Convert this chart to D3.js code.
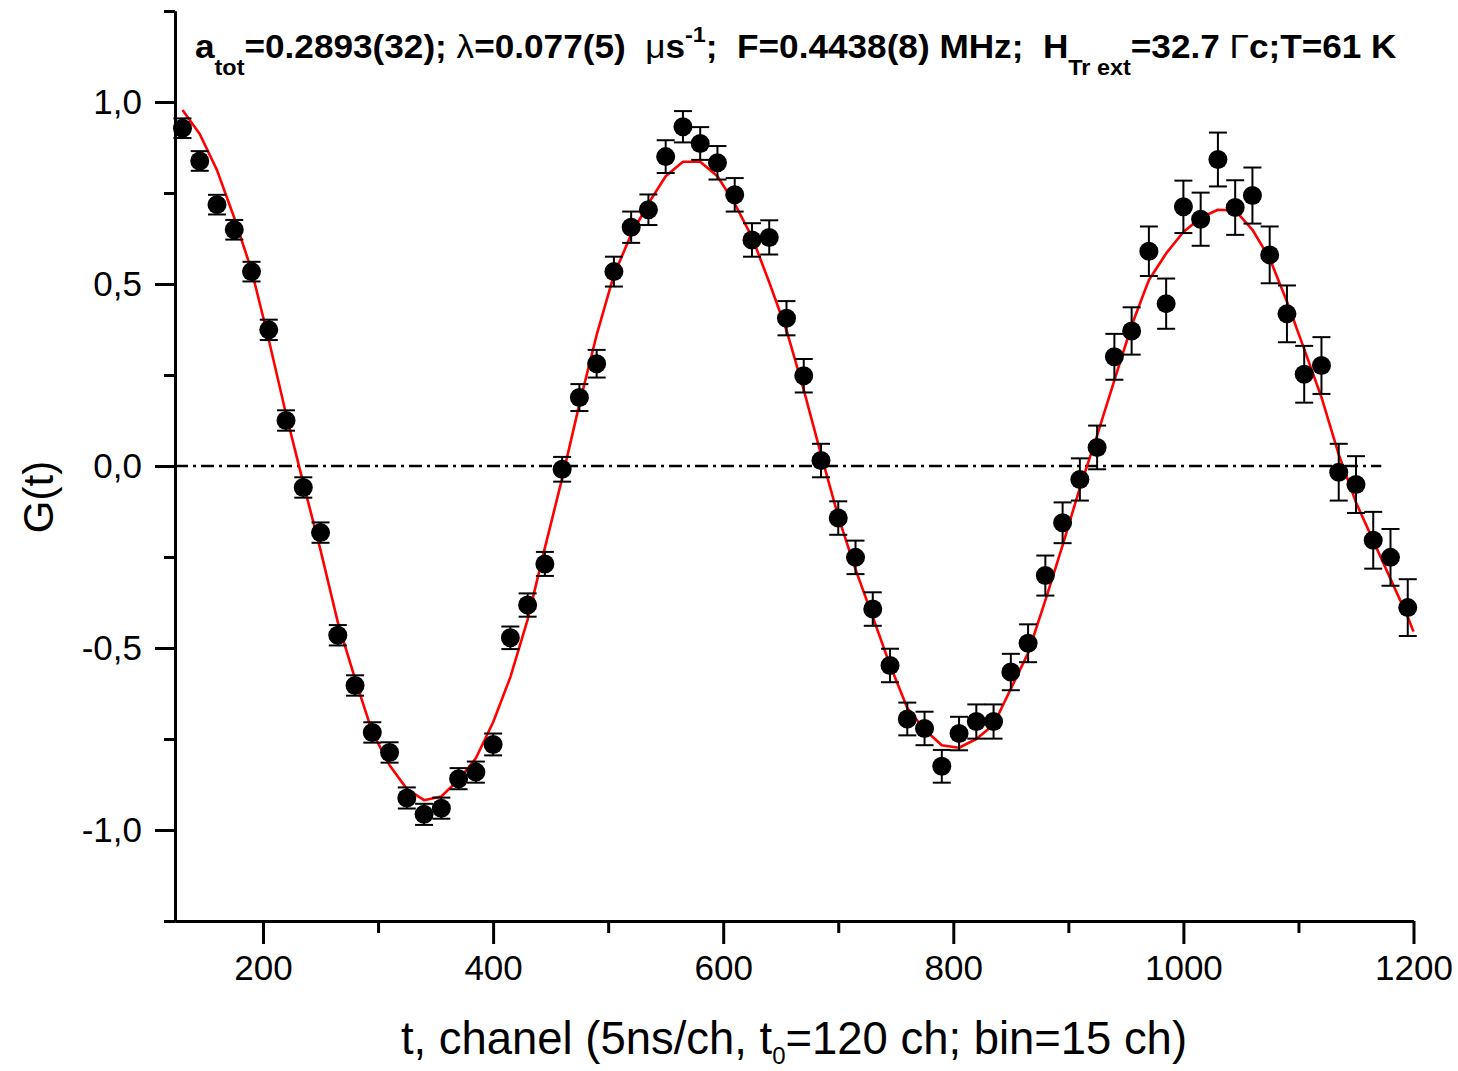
<!DOCTYPE html>
<html><head><meta charset="utf-8">
<script src="https://cdn.jsdelivr.net/npm/d3@7"></script>
<style>
html,body{margin:0;padding:0;background:#fff;}
text{font-family:"Liberation Sans",Arial,sans-serif;fill:#000;}
</style></head>
<body><svg id="chart" width="1458" height="1071"></svg>
<script>
// ---- data ----
const channels = [130,145,160,175,190,205,220,235,250,265,280,295,310,325,340,355,370,385,400,415,430,445,460,475,490,505,520,535,550,565,580,595,610,625,640,655,670,685,700,715,730,745,760,775,790,805,820,835,850,865,880,895,910,925,940,955,970,985,1000,1015,1030,1045,1060,1075,1090,1105,1120,1135,1150,1165,1180,1195];
const gValues = [0.928,0.838,0.718,0.649,0.534,0.374,0.125,-0.059,-0.183,-0.465,-0.603,-0.732,-0.787,-0.912,-0.957,-0.940,-0.859,-0.841,-0.765,-0.472,-0.382,-0.269,-0.009,0.188,0.281,0.534,0.656,0.704,0.850,0.932,0.886,0.833,0.745,0.621,0.628,0.406,0.248,0.015,-0.143,-0.251,-0.393,-0.548,-0.695,-0.721,-0.825,-0.735,-0.702,-0.702,-0.566,-0.487,-0.301,-0.156,-0.037,0.051,0.300,0.371,0.590,0.446,0.712,0.678,0.842,0.710,0.743,0.580,0.418,0.252,0.276,-0.017,-0.051,-0.204,-0.251,-0.389];
const gErrors = [0.027,0.027,0.027,0.027,0.027,0.028,0.028,0.028,0.028,0.028,0.028,0.028,0.028,0.029,0.029,0.029,0.029,0.029,0.030,0.031,0.032,0.033,0.034,0.037,0.038,0.041,0.043,0.042,0.045,0.043,0.045,0.046,0.046,0.046,0.047,0.047,0.046,0.046,0.046,0.046,0.046,0.046,0.045,0.046,0.045,0.046,0.047,0.047,0.050,0.052,0.055,0.056,0.058,0.060,0.063,0.065,0.068,0.069,0.072,0.073,0.074,0.075,0.077,0.078,0.078,0.078,0.078,0.078,0.078,0.078,0.078,0.078];
const fitChannels = channels.concat([1200]);
const fitValues = [0.978,0.912,0.813,0.682,0.538,0.347,0.143,-0.047,-0.231,-0.429,-0.585,-0.731,-0.822,-0.887,-0.918,-0.908,-0.862,-0.803,-0.704,-0.580,-0.422,-0.225,-0.034,0.170,0.360,0.525,0.636,0.721,0.796,0.836,0.836,0.796,0.721,0.629,0.505,0.373,0.209,0.032,-0.139,-0.284,-0.415,-0.547,-0.665,-0.724,-0.767,-0.774,-0.750,-0.711,-0.612,-0.514,-0.369,-0.218,-0.060,0.084,0.235,0.386,0.511,0.584,0.643,0.682,0.704,0.702,0.649,0.570,0.452,0.321,0.189,0.032,-0.100,-0.205,-0.310,-0.415,-0.455];
const zeroLineRange = [123.5, 1172];
const xMajorTicks = [200,400,600,800,1000,1200];
const xMinorTicks = [300,500,700,900,1100];
const yMajorTicks = [-1.0,-0.5,0.0,0.5,1.0];
const yMinorTicks = [-1.25,-0.75,-0.25,0.25,0.75,1.25];
const xTitle = ["t, chanel (5ns/ch, t","0","=120 ch; bin=15 ch)"];
const yTitle = "G(t)";

// ---- layout ----
const svg = d3.select("#chart");
const x = d3.scaleLinear().domain([123.5,1200]).range([175,1413.5]);
const y = d3.scaleLinear().domain([-1.25,1.25]).range([921,11]);

// zero line
svg.append("line")
  .attr("x1",x(zeroLineRange[0])).attr("x2",x(zeroLineRange[1]))
  .attr("y1",y(0)).attr("y2",y(0))
  .attr("stroke","#000").attr("stroke-width",2.4)
  .attr("stroke-dasharray","13,5,3,5");

// fit curve
const fitData = fitChannels.map((c,i)=>[c,fitValues[i]]);
svg.append("path").datum(fitData)
  .attr("fill","none").attr("stroke","#ff0000").attr("stroke-width",2.6)
  .attr("stroke-linejoin","round")
  .attr("d", d3.line().x(d=>x(d[0])).y(d=>y(d[1])));

// points
const pts = channels.map((c,i)=>({c, v:gValues[i], e:gErrors[i]}));
const eb = svg.append("g").attr("stroke","#000").attr("stroke-width",2);
const capW = 9;
pts.forEach(p=>{
  eb.append("line").attr("x1",x(p.c)).attr("x2",x(p.c)).attr("y1",y(p.v-p.e)).attr("y2",y(p.v+p.e));
  eb.append("line").attr("x1",x(p.c)-capW).attr("x2",x(p.c)+capW).attr("y1",y(p.v+p.e)).attr("y2",y(p.v+p.e));
  eb.append("line").attr("x1",x(p.c)-capW).attr("x2",x(p.c)+capW).attr("y1",y(p.v-p.e)).attr("y2",y(p.v-p.e));
});
svg.append("g").selectAll("circle").data(pts).join("circle")
  .attr("cx",d=>x(d.c)).attr("cy",d=>y(d.v)).attr("r",9.5).attr("fill","#000");

// axes
function styleAxis(g){
  g.select(".domain").attr("stroke","#000").attr("stroke-width",3);
  g.selectAll(".tick line").attr("stroke","#000").attr("stroke-width",3);
  g.selectAll(".tick text").style("font-family","'Liberation Sans',Arial,sans-serif").style("font-size","35px").attr("fill","#000");
}
const gxMinor = svg.append("g").attr("transform",`translate(0,${y(-1.25)})`)
  .call(d3.axisBottom(x).tickValues(xMinorTicks).tickSize(12).tickSizeOuter(0).tickFormat(""));
styleAxis(gxMinor);
const gx = svg.append("g").attr("transform",`translate(0,${y(-1.25)})`)
  .call(d3.axisBottom(x).tickValues(xMajorTicks).tickSize(23).tickSizeOuter(0).tickPadding(11).tickFormat(d3.format("d")));
styleAxis(gx);
const gyMinor = svg.append("g").attr("transform",`translate(${x(123.5)},0)`)
  .call(d3.axisLeft(y).tickValues(yMinorTicks).tickSize(11).tickSizeOuter(0).tickFormat(""));
styleAxis(gyMinor);
const gy = svg.append("g").attr("transform",`translate(${x(123.5)},0)`)
  .call(d3.axisLeft(y).tickValues(yMajorTicks).tickSize(20).tickSizeOuter(0).tickPadding(13)
    .tickFormat(v=>v.toFixed(1).replace(".",",")));
styleAxis(gy);

// y title
svg.append("text").attr("transform","translate(53,497) rotate(-90)")
  .attr("text-anchor","middle").style("font-size","42px").text(yTitle);

// x title
const xt = svg.append("text").attr("x",794).attr("y",1054).attr("text-anchor","middle").style("font-size","40px");
xt.append("tspan").text(xTitle[0]);
xt.append("tspan").attr("dy",10).style("font-size","24px").text(xTitle[1]);
xt.append("tspan").attr("dy",-10).text(xTitle[2]);
{
  const w = xt.node().getBBox().width;
  const fs = 40*788/w;
  xt.style("font-size",fs+"px");
}

// header
const tt = svg.append("text").attr("x",0).attr("y",0)
  .style("font-size","33px").style("font-weight","bold").style("white-space","pre");
const parts = [
  ["a",0,null],["tot",17,"sub"],["=0.2893(32); ",-17,null],["λ",0,"greek"],["=0.077(5)  ",0,null],
  ["μ",0,"greek"],["s",0,null],["-1",-16,"sup"],[";  F=0.4438(8) MHz;  H",16,null],
  ["Tr ext",17,"sub"],["=32.7 ",-17,null],["Γ",0,"greek"],["c;T=61 K",0,null]
];
parts.forEach(([s,dy,kind])=>{
  const t = tt.append("tspan").attr("dy",dy).text(s);
  if(kind==="sub"||kind==="sup") t.style("font-size","22px");
  if(kind==="greek") t.style("font-weight","normal");
});
{
  const bb = tt.node().getBBox();
  const sx = 1202/bb.width;
  tt.attr("transform",`translate(195,58) scale(${sx},1) translate(${-bb.x},0)`);
}
</script></body></html>
